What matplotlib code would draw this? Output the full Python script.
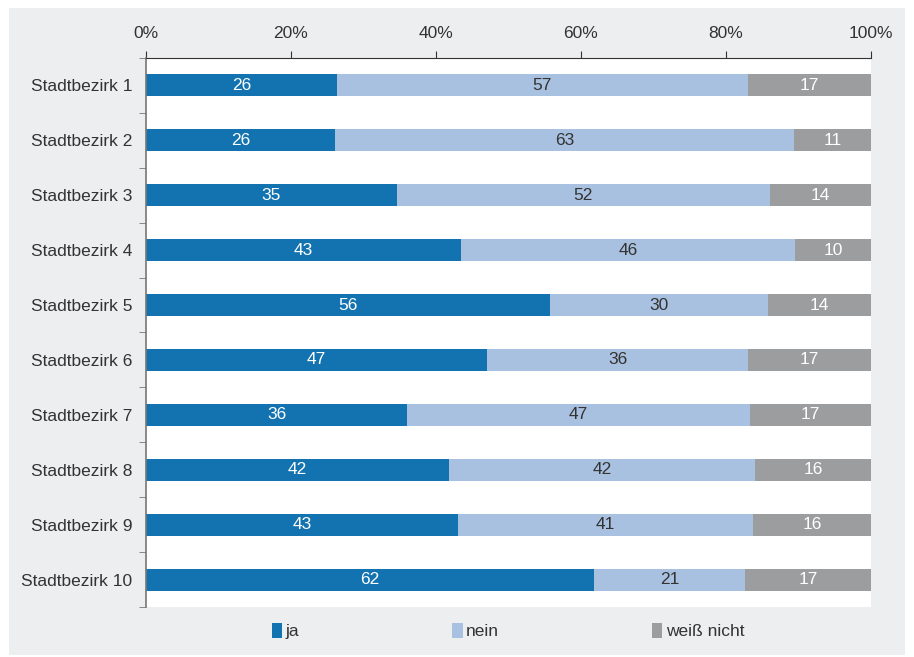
import matplotlib.pyplot as plt
import numpy as np
from matplotlib.patches import Patch, Rectangle

districts = [f"Stadtbezirk {i}" for i in range(1, 11)]
series_labels = ["ja", "nein", "weiß nicht"]
x_ticks = [0, 20, 40, 60, 80, 100]

# printed (rounded) values
ja = [26, 26, 35, 43, 56, 47, 36, 42, 43, 62]
nein = [57, 63, 52, 46, 30, 36, 47, 42, 41, 21]
weiss_nicht = [17, 11, 14, 10, 14, 17, 17, 16, 16, 17]

# unrounded shares (in %)
ja_share = [26.3, 26.1, 34.6, 43.4, 55.7, 47.0, 36.0, 41.8, 43.0, 61.8]
nein_share = [56.7, 63.3, 51.4, 46.1, 30.1, 36.1, 47.3, 42.2, 40.7, 20.8]
weiss_share = [17.0, 10.6, 14.0, 10.5, 14.2, 16.9, 16.7, 16.0, 16.3, 17.4]

colors = ["#1273b0", "#a9c1e0", "#9c9d9f"]
text_colors = ["white", "#333333", "white"]

plt.rcParams["font.family"] = ["Liberation Sans", "DejaVu Sans"]

fig = plt.figure(figsize=(9.14, 6.57), dpi=100)
fig.patch.set_facecolor("white")
# grey panel behind the chart
fig.patches.append(Rectangle((9 / 914, 2 / 657), 896 / 914, 647 / 657,
                             transform=fig.transFigure, facecolor="#edeef0",
                             edgecolor="none", zorder=-10))

ax = fig.add_axes([146 / 914, 50 / 657, 725 / 914, 549 / 657])
ax.set_facecolor("white")

labels = [ja, nein, weiss_nicht]
shares = [ja_share, nein_share, weiss_share]
y = np.arange(len(districts))

left = np.zeros(len(districts))
for k in range(3):
    w = np.array(shares[k])
    ax.barh(y, w, left=left, height=0.4, color=colors[k], label=series_labels[k])
    for i in range(len(districts)):
        ax.text(left[i] + w[i] / 2, y[i], f"{labels[k][i]}",
                ha="center", va="center", color=text_colors[k], fontsize=12.5)
    left += w

ax.set_xlim(0, 100)
ax.set_ylim(len(districts) - 0.5, -0.5)
ax.xaxis.tick_top()
ax.set_xticks(x_ticks)
ax.set_xticklabels([f"{t}%" for t in x_ticks], fontsize=12.5, color="#333333")
ax.tick_params(axis="x", length=5, color="#333333", pad=7)

ax.set_yticks(y)
ax.set_yticklabels(districts, fontsize=12.5, color="#333333")
ax.set_yticks(np.arange(-0.5, len(districts)), minor=True)
ax.tick_params(axis="y", which="major", length=0, pad=10)
ax.tick_params(axis="y", which="minor", length=5, color="#777777")

for s in ["right", "bottom"]:
    ax.spines[s].set_visible(False)
ax.spines["top"].set_color("#333333")
ax.spines["left"].set_color("#777777")
ax.spines["left"].set_linewidth(1.2)

handles = [Patch(facecolor=c, edgecolor="none") for c in colors]
fig.legend(handles, series_labels, loc="center", bbox_to_anchor=(508 / 914, 26 / 657),
           ncol=3, frameon=False, fontsize=12.5, handlelength=0.6, handleheight=1.0,
           handletextpad=0.2, columnspacing=8.8, labelcolor="#333333")

fig.savefig("out.png", dpi=100)
